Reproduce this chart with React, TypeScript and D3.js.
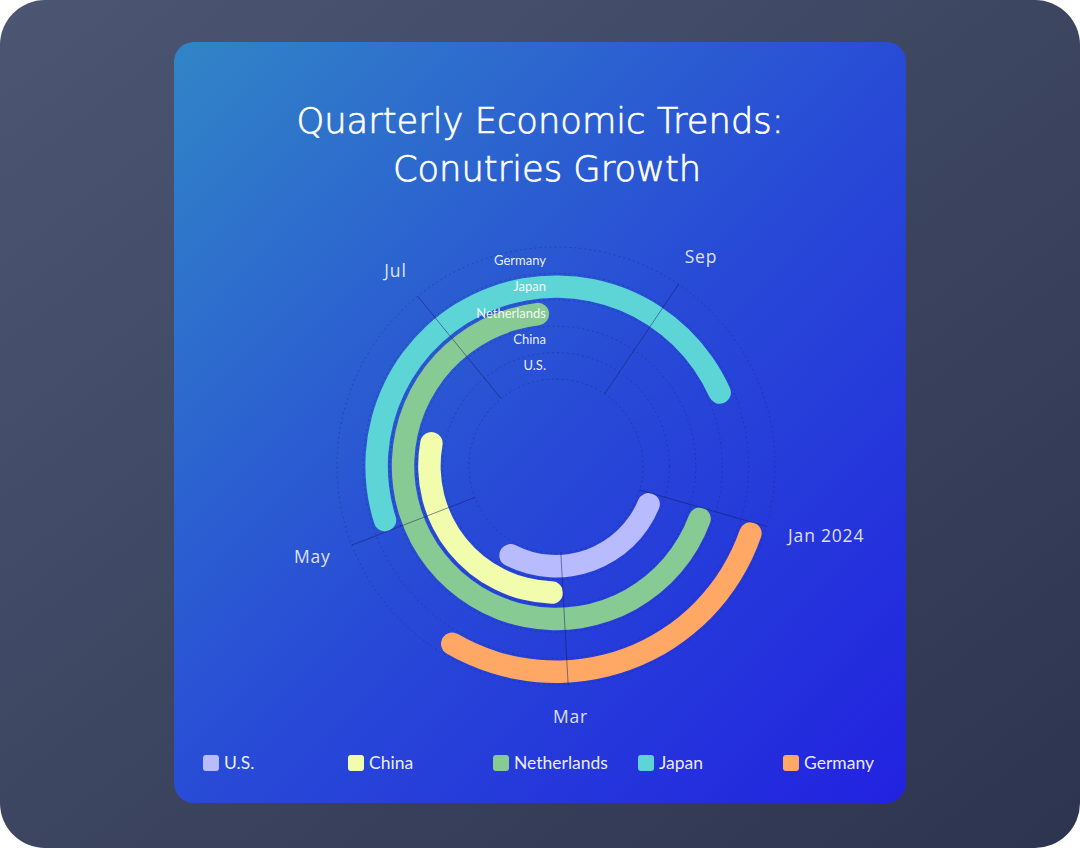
import React from "react";
import * as d3 from "d3";

const countries = ["U.S.", "China", "Netherlands", "Japan", "Germany"];
const startDates = ["2024-01-01", "2024-03-01", "2024-01-01", "2024-05-01", "2024-01-01"];
const endDates = ["2024-04-01", "2024-06-01", "2024-08-01", "2024-10-01", "2024-04-01"];
const colors = ["#B9BBFF", "#F2FCAD", "#87CA93", "#5DD5D7", "#FFA865"];
const domainDates = ["2024-01-01", "2024-11-01"];

const width = 1080;
const height = 848;
const cx = 556;
const cy = 466;
const innerR = 87;
const outerR = 219;
const startAngle = (106 * Math.PI) / 180;

const axisFont = { family: "Open Sans", size: 17.5, spacing: 0.8 };

const parse = d3.utcParse("%Y-%m-%d");

let measureCtx: CanvasRenderingContext2D | null = null;
function textWidth(s: string) {
  if (!measureCtx) measureCtx = document.createElement("canvas").getContext("2d");
  if (!measureCtx) return s.length * axisFont.size * 0.55;
  measureCtx.font = `${axisFont.size}px "${axisFont.family}"`;
  return measureCtx.measureText(s).width + axisFont.spacing * s.length;
}

export default function App() {
  const angle = d3
    .scaleUtc()
    .domain(domainDates.map(d => parse(d)!))
    .range([startAngle, startAngle + 2 * Math.PI]);

  const radius = d3
    .scaleBand<string>()
    .domain(countries)
    .range([innerR, outerR])
    .paddingInner(0.15)
    .paddingOuter(0.075);

  // last tick (Nov) lands on top of Jan, so drop it
  const ticks = angle.ticks(d3.utcMonth.every(2)!).filter(t => angle(t) < startAngle + 2 * Math.PI - 0.01);
  const fmt = (d: Date) => (d.getUTCMonth() === 0 ? d3.utcFormat("%b %Y")(d) : d3.utcFormat("%b")(d));

  const bw = radius.bandwidth();
  const arc = d3.arc<{ r: number; a0: number; a1: number }>()
    .innerRadius(d => d.r - bw / 2)
    .outerRadius(d => d.r + bw / 2)
    .startAngle(d => d.a0)
    .endAngle(d => d.a1)
    .cornerRadius(bw / 2);

  const rings = d3.range(countries.length + 1).map(i => innerR + radius.step() * i);

  const legendX = d3.scalePoint<string>().domain(countries).range([203, 783]);

  return (
    <svg
      width={width}
      height={height}
      style={{ position: "absolute", left: 0, top: 0, display: "block" }}
    >
      <defs>
        <linearGradient id="outer" x1="0" y1="0" x2="1" y2="1">
          <stop offset="0%" stopColor="#4C5672" />
          <stop offset="100%" stopColor="#2D344F" />
        </linearGradient>
        <linearGradient id="card" x1="0" y1="0" x2="1" y2="1">
          <stop offset="0%" stopColor="#3185C6" />
          <stop offset="50%" stopColor="#284CD6" />
          <stop offset="100%" stopColor="#2222E0" />
        </linearGradient>
      </defs>
      <rect width={width} height={height} fill="#fff" />
      <rect width={width} height={height} rx={45} fill="url(#outer)" />
      <rect x={174} y={42} width={732} height={761} rx={20} fill="url(#card)" />

      <text
        x={540}
        textAnchor="middle"
        fill="#fff"
        stroke="#fff"
        strokeWidth={0.7}
        style={{ fontFamily: "DejaVu Sans", fontSize: 35.3, fontWeight: 200 }}
      >
        <tspan x={540} y={133}>Quarterly Economic Trends:</tspan>
        <tspan x={547} y={181}>Conutries Growth</tspan>
      </text>

      <g transform={`translate(${cx},${cy})`}>
        {rings.map((r, i) => (
          <circle
            key={i}
            r={r}
            fill="none"
            stroke="#16206e"
            strokeOpacity={0.35}
            strokeDasharray="2,3"
          />
        ))}

        {countries.map((c, i) => (
          <path
            key={c}
            d={
              arc({
                r: radius(c)! + bw / 2,
                a0: angle(parse(startDates[i])!),
                a1: angle(parse(endDates[i])!),
              })!
            }
            fill={colors[i]}
          />
        ))}

        {ticks.map((t, i) => {
          const a = angle(t);
          const s = Math.sin(a);
          const co = Math.cos(a);
          return (
            <line
              key={i}
              x1={innerR * s}
              y1={-innerR * co}
              x2={outerR * s}
              y2={-outerR * co}
              stroke="#141c5c"
              strokeOpacity={0.5}
              strokeWidth={1}
            />
          );
        })}

        {ticks.map((t, i) => {
          const a = angle(t);
          const s = Math.sin(a);
          const co = Math.cos(a);
          const lr = outerR + 24;
          const label = fmt(t);
          // slide the label so it sits just outside the ring whatever the angle
          const shift = -((1 - s) / 2) * textWidth(label);
          return (
            <text
              key={i}
              x={lr * s + shift}
              y={-lr * co}
              dy={`${0.35 - 0.5 * co}em`}
              textAnchor="start"
              fill="#fff"
              fillOpacity={0.85}
              style={{ fontFamily: axisFont.family, fontSize: axisFont.size, letterSpacing: axisFont.spacing }}
            >
              {label}
            </text>
          );
        })}

        {countries.map(c => (
          <text
            key={c}
            x={-10}
            y={-(radius(c)! + bw / 2)}
            dy="0.35em"
            textAnchor="end"
            fill="#fff"
            fillOpacity={0.92}
            style={{ fontFamily: "Lato", fontSize: 13 }}
          >
            {c}
          </text>
        ))}
      </g>

      {countries.map((c, i) => (
        <g key={c} transform={`translate(${legendX(c)},763)`}>
          <rect x={0} y={-8} width={16} height={16} rx={3} fill={colors[i]} />
          <text
            x={21}
            dy="0.35em"
            fill="#fff"
            fillOpacity={0.92}
            style={{ fontFamily: "Lato", fontSize: 17.5 }}
          >
            {c}
          </text>
        </g>
      ))}
    </svg>
  );
}
